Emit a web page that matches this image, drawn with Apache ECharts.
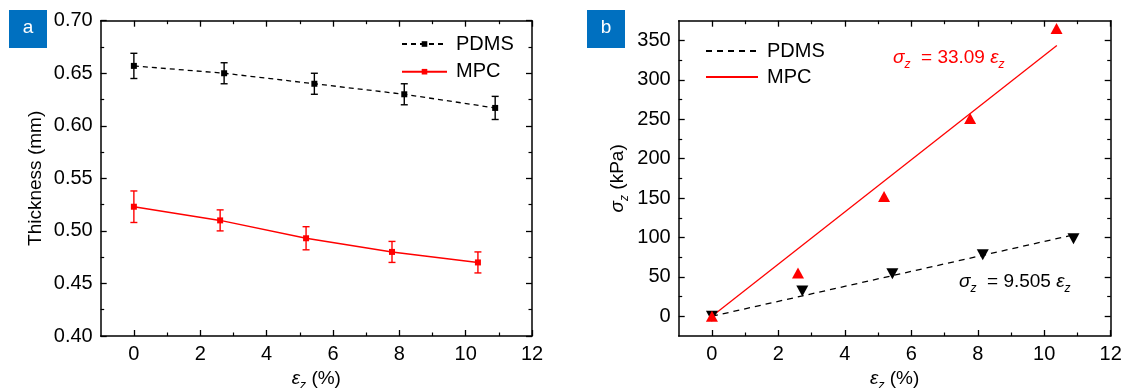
<!DOCTYPE html>
<html>
<head>
<meta charset="utf-8">
<script src="https://cdn.jsdelivr.net/npm/echarts@6/dist/echarts.min.js"></script>
<style>
  html, body { margin: 0; padding: 0; background: #fff; }
  #chart { width: 1124px; height: 388px; }
</style>
</head>
<body>
<div id="chart"></div>
<script>
// panel a: thickness vs strain
const strainPdmsA = [0, 2.72, 5.44, 8.15, 10.89];
const thickPdms = [0.657, 0.650, 0.640, 0.630, 0.617];
const errPdms = [0.012, 0.010, 0.010, 0.010, 0.011];
const strainMpcA = [0, 2.6, 5.19, 7.78, 10.37];
const thickMpc = [0.523, 0.510, 0.493, 0.480, 0.470];
const errMpc = [0.015, 0.010, 0.011, 0.010, 0.010];

// panel b: stress vs strain, with linear fits
const strainPdmsB = [0, 2.72, 5.43, 8.15, 10.88];
const stressPdms = [0, 32, 54, 78, 98.5];
const strainMpcB = [0, 2.59, 5.18, 7.77, 10.37];
const stressMpc = [0, 55, 152, 251, 365];
const fitPdmsX = [0, 10.95];
const fitPdmsY = [0, 104];
const fitMpcX = [0, 10.38];
const fitMpcY = [0, 343.5];

// tick values
const strainTicks = [0, 2, 4, 6, 8, 10, 12];
const strainMinor = [1, 3, 5, 7, 9, 11];
const thickTicks = [0.40, 0.45, 0.50, 0.55, 0.60, 0.65, 0.70];
const thickMinor = [0.425, 0.475, 0.525, 0.575, 0.625, 0.675];
const stressTicks = [0, 50, 100, 150, 200, 250, 300, 350];
const stressMinor = [25, 75, 125, 175, 225, 275, 325];

const FONT = "'Liberation Sans', Arial, sans-serif";
const chart = echarts.init(document.getElementById('chart'));

const zip = (xs, ys) => xs.map((x, i) => [x, ys[i]]);
const sub = {
  i: { fontStyle: 'italic', fontSize: 19, fontFamily: FONT, lineHeight: 26 },
  s: { fontStyle: 'italic', fontSize: 12, fontFamily: FONT, verticalAlign: 'bottom', lineHeight: 12 },
  n: { fontSize: 19, fontFamily: FONT, lineHeight: 26 },
};

// main axis (labels + long ticks) on both sides, then minor tick helpers
function boxAxes(grid, min, max, ticks, minor, fmt, name, nameGap, sides) {
  const base = { gridIndex: grid, type: 'value', min, max, splitLine: { show: false } };
  const main = (pos, labels) => ({
    ...base, position: pos,
    axisLine: { show: true, onZero: false, lineStyle: { color: '#000', width: 1.5 } },
    axisTick: { show: true, inside: true, length: 6, customValues: ticks, lineStyle: { color: '#000', width: 1.3 } },
    axisLabel: { show: labels, customValues: ticks, formatter: fmt, fontSize: 20, color: '#000',
      fontFamily: FONT, margin: 8 },
    name: labels ? name : '', nameLocation: 'middle', nameGap,
    nameTextStyle: { fontSize: 19, color: '#000', fontFamily: FONT, rich: sub },
  });
  const helper = (pos) => ({
    ...base, position: pos,
    axisLine: { show: false, onZero: false },
    axisTick: { show: true, inside: true, length: 3.5, customValues: minor, lineStyle: { color: '#000', width: 1.2 } },
    axisLabel: { show: false },
  });
  return [main(sides[0], true), main(sides[1], false), helper(sides[1]), helper(sides[0])];
}

const xAxis = [
  ...boxAxes(0, -1, 12, strainTicks, strainMinor, v => v, '{i|ε}{s|z}{n| (%)}', 27, ['bottom', 'top']),
  ...boxAxes(1, -1, 12, strainTicks, strainMinor, v => v, '{i|ε}{s|z}{n| (%)}', 27, ['bottom', 'top']),
];
const yAxis = [
  ...boxAxes(0, 0.4, 0.7, thickTicks, thickMinor, v => v.toFixed(2), 'Thickness (mm)', 55, ['left', 'right']),
  ...boxAxes(1, -25, 375, stressTicks, stressMinor, v => v, '{i|σ}{s|z}{n| (kPa)}', 48, ['left', 'right']),
];

function errorBars(name, xs, ys, es, color) {
  return {
    name, type: 'custom', xAxisIndex: 0, yAxisIndex: 0, z: 3,
    data: xs.map((x, i) => [x, ys[i], es[i]]),
    encode: { x: 0, y: 1 },
    renderItem: (params, api) => {
      const x = api.value(0), y = api.value(1), e = api.value(2);
      const t = api.coord([x, y + e]);
      const b = api.coord([x, y - e]);
      const w = 3.5;
      const st = { stroke: color, lineWidth: 1.4 };
      return {
        type: 'group',
        children: [
          { type: 'line', shape: { x1: t[0], y1: t[1], x2: b[0], y2: b[1] }, style: st },
          { type: 'line', shape: { x1: t[0] - w, y1: t[1], x2: t[0] + w, y2: t[1] }, style: st },
          { type: 'line', shape: { x1: b[0] - w, y1: b[1], x2: b[0] + w, y2: b[1] }, style: st },
        ],
      };
    },
  };
}

const series = [
  errorBars('errPdms', strainPdmsA, thickPdms, errPdms, '#000'),
  errorBars('errMpc', strainMpcA, thickMpc, errMpc, '#ff0000'),
  {
    name: 'PDMS', type: 'line', xAxisIndex: 0, yAxisIndex: 0, z: 4,
    data: zip(strainPdmsA, thickPdms), symbol: 'rect', symbolSize: 6,
    itemStyle: { color: '#000' },
    lineStyle: { color: '#000', width: 1.3, type: [5, 4] },
  },
  {
    name: 'MPC', type: 'line', xAxisIndex: 0, yAxisIndex: 0, z: 4,
    data: zip(strainMpcA, thickMpc), symbol: 'rect', symbolSize: 6,
    itemStyle: { color: '#ff0000' },
    lineStyle: { color: '#ff0000', width: 1.5 },
  },
  {
    name: 'PDMS ', type: 'line', xAxisIndex: 4, yAxisIndex: 4, symbol: 'none',
    data: zip(fitPdmsX, fitPdmsY),
    lineStyle: { color: '#000', width: 1.3, type: [6, 5] },
    itemStyle: { color: '#000' },
  },
  {
    name: 'MPC ', type: 'line', xAxisIndex: 4, yAxisIndex: 4, symbol: 'none',
    data: zip(fitMpcX, fitMpcY),
    lineStyle: { color: '#ff0000', width: 1.3 },
    itemStyle: { color: '#ff0000' },
  },
  {
    name: 'ptsPdms', type: 'scatter', xAxisIndex: 4, yAxisIndex: 4, z: 5,
    data: zip(strainPdmsB, stressPdms), symbol: 'triangle', symbolRotate: 180, symbolSize: [12, 11],
    itemStyle: { color: '#000', opacity: 1 },
  },
  {
    name: 'ptsMpc', type: 'scatter', xAxisIndex: 4, yAxisIndex: 4, z: 6,
    data: zip(strainMpcB, stressMpc), symbol: 'triangle', symbolSize: [12, 11],
    itemStyle: { color: '#ff0000', opacity: 1 },
  },
];

const legendText = { fontSize: 20, color: '#000', fontFamily: FONT, lineHeight: 20, padding: [0, 0, 0, 4] };

chart.setOption({
  animation: false,
  backgroundColor: '#fff',
  grid: [
    { left: 100.7, top: 20.7, width: 431.3, height: 315.3, containLabel: false, outerBoundsMode: 'none' },
    { left: 678.7, top: 20.7, width: 432, height: 315.3, containLabel: false, outerBoundsMode: 'none' },
  ],
  legend: [
    {
      data: ['PDMS', 'MPC'], orient: 'vertical', left: 396, top: 29,
      itemWidth: 45, itemHeight: 7, itemGap: 7.7, textStyle: legendText, selectedMode: false,
    },
    {
      data: ['PDMS ', 'MPC '], orient: 'vertical', left: 700, top: 36,
      itemWidth: 52, itemHeight: 0.1, itemGap: 6, textStyle: legendText, selectedMode: false,
    },
  ],
  xAxis,
  yAxis,
  series,
  graphic: [
    { type: 'rect', left: 9, top: 10, shape: { width: 38, height: 38 }, style: { fill: '#0070c0' } },
    { type: 'text', x: 28, y: 28, style: { text: 'a', fill: '#fff', fontSize: 19, fontFamily: FONT, align: 'center', verticalAlign: 'middle' } },
    { type: 'rect', left: 587, top: 10, shape: { width: 38, height: 38 }, style: { fill: '#0070c0' } },
    { type: 'text', x: 606, y: 28, style: { text: 'b', fill: '#fff', fontSize: 19, fontFamily: FONT, align: 'center', verticalAlign: 'middle' } },
    {
      type: 'text', x: 893, y: 58, z: 10,
      style: {
        text: '{i|σ}{s|z}{n|  = 33.09 }{i|ε}{s|z}', fill: '#ff0000', verticalAlign: 'middle',
        fontSize: 19, fontFamily: FONT, rich: sub,
      },
    },
    {
      type: 'text', x: 959, y: 282, z: 10,
      style: {
        text: '{i|σ}{s|z}{n|  = 9.505 }{i|ε}{s|z}', fill: '#000', verticalAlign: 'middle',
        fontSize: 19, fontFamily: FONT, rich: sub,
      },
    },
  ],
});
</script>
</body>
</html>
